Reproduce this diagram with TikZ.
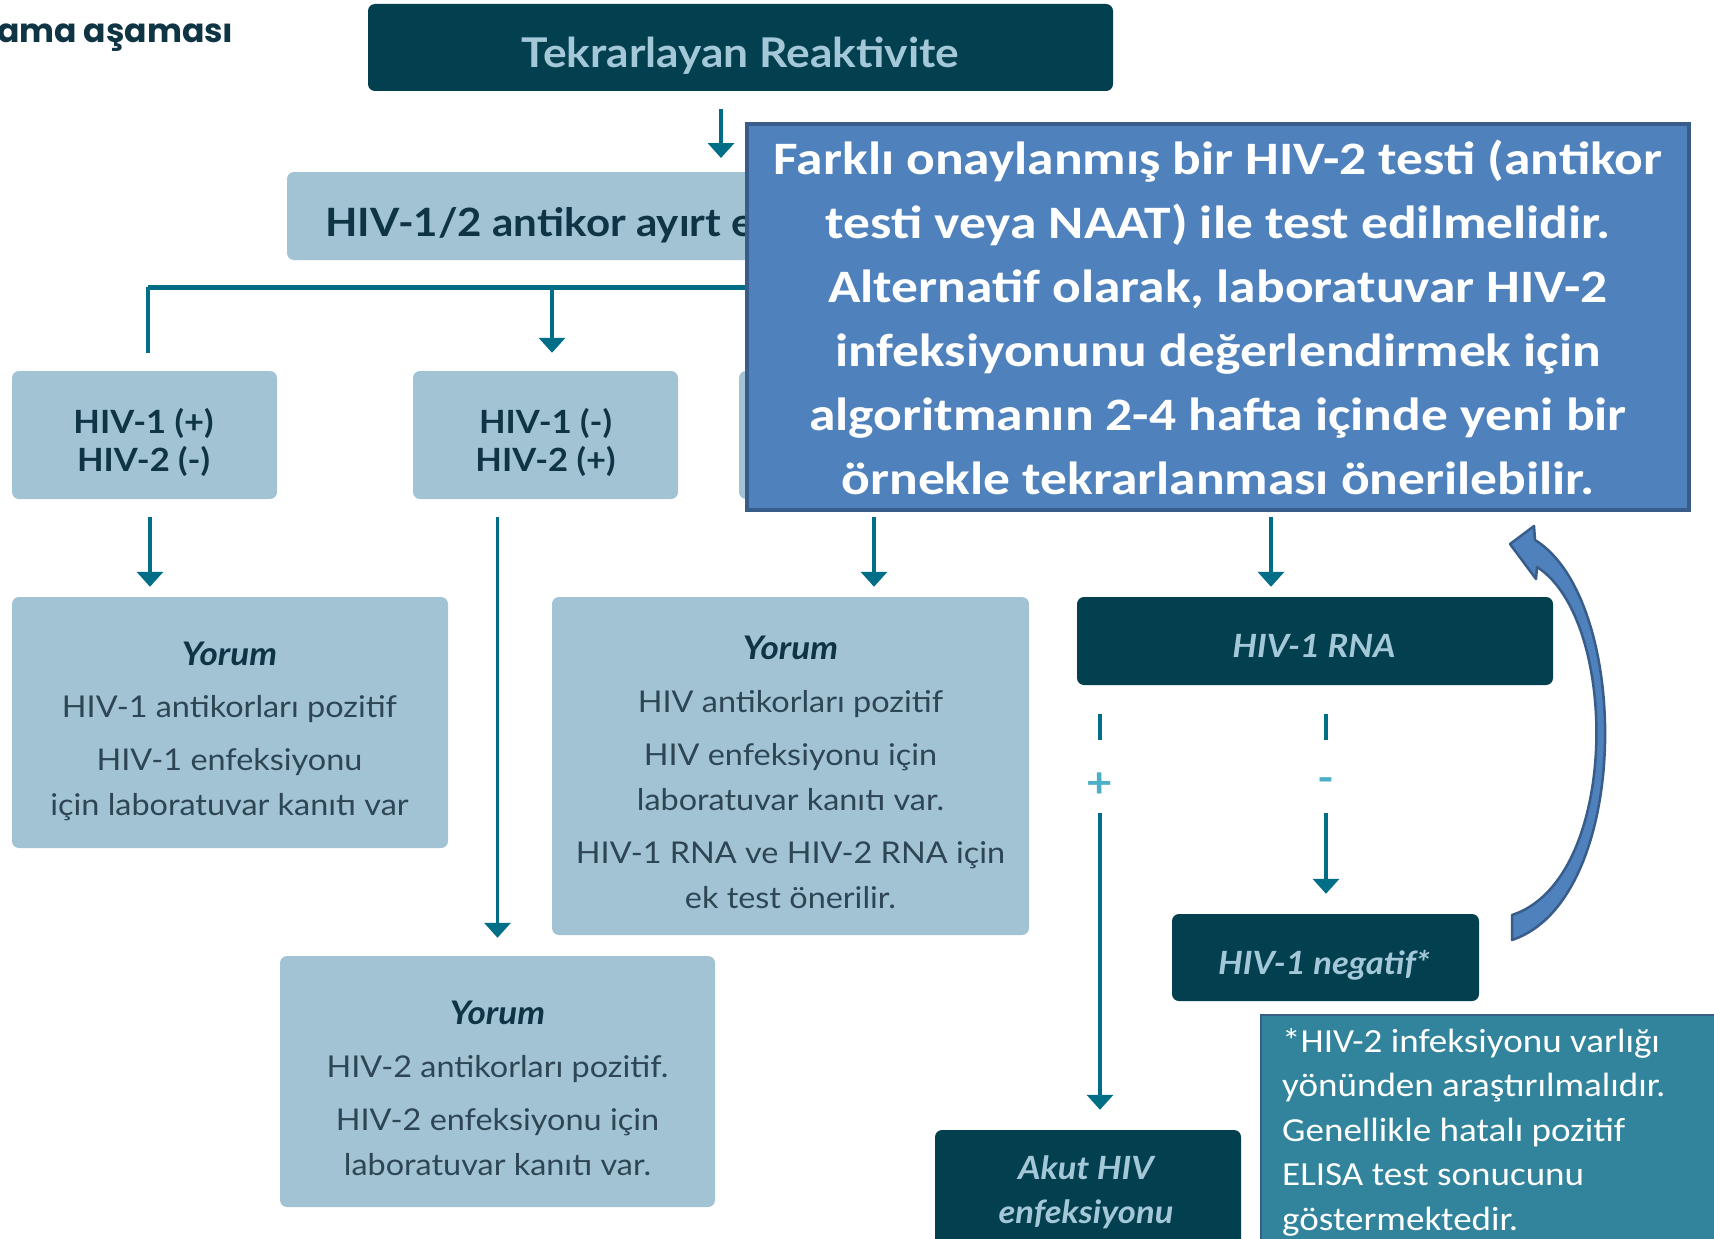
\documentclass[tikz,border=0pt]{standalone}
\usepackage{fontspec}
\usetikzlibrary{arrows.meta,calc}
\newfontfamily\flowfont[FakeStretch=1.08]{Lato}
\newfontfamily\hdrfont{Poppins}
\newfontfamily\calfont[FakeStretch=1.15]{Carlito}
\newfontfamily\calfontfoot[FakeStretch=1.10]{Carlito}
\definecolor{darkbox}{HTML}{02404F}
\definecolor{darktxt}{HTML}{A5C8D8}
\definecolor{lightbox}{HTML}{A1C3D4}
\definecolor{headtxt}{HTML}{0F3545}
\definecolor{bodytxt}{HTML}{2E4654}
\definecolor{arrcol}{HTML}{006E86}
\definecolor{pmcol}{HTML}{4BAFC8}
\definecolor{ovfill}{HTML}{4F81BD}
\definecolor{ovdraw}{HTML}{385D8A}
\definecolor{footfill}{HTML}{31849B}
\newcommand{\yorumhd}{\leavevmode{\fontsize{32.5}{45}\selectfont\bfseries\itshape\color{headtxt}Yorum}}
\begin{document}
\begin{tikzpicture}[x=1pt,y=-1pt,
  darkb/.style={fill=darkbox, rounded corners=7pt, inner sep=0pt},
  lightb/.style={fill=lightbox, rounded corners=7pt, inner sep=0pt},
  dtxt/.style={text=darktxt, inner sep=0pt, anchor=base, font=\flowfont\bfseries\itshape\fontsize{32}{44}\selectfont},
  ytxt/.style={text=bodytxt, inner sep=0pt, anchor=base, font=\flowfont\fontsize{30}{45}\selectfont},
  arr/.style={draw=arrcol, line width=3.5pt, -{Triangle[width=26pt,length=15pt]}},
  plainln/.style={draw=arrcol, line width=3.5pt},
  branchln/.style={draw=arrcol, line width=5pt},
  pm/.style={text=pmcol, font=\flowfont\bfseries\fontsize{42}{42}\selectfont, minimum height=70pt, inner sep=0pt},
]
\useasboundingbox (0,0) rectangle (1714,1239);
\fill[white] (0,0) rectangle (1714,1239);

% heading
\node[anchor=base west, inner sep=0pt, text=headtxt, font=\hdrfont\bfseries\fontsize{33}{33}\selectfont] (hdr) at (-3,43) {ama aşaması};

% top box
\node[darkb, minimum width=745pt, minimum height=87pt] (top) at (740.5,47.5) {};
\node[text=darktxt, inner sep=0pt, anchor=base, font=\flowfont\bfseries\fontsize{41}{41}\selectfont] (topt) at (740.5,67) {Tekrarlayan Reaktivite};

% discriminating test box
\node[lightb, minimum width=813pt, minimum height=88pt] (disc) at (693.5,216) {};
\node[anchor=base west, inner sep=0pt, text=headtxt, font=\flowfont\bfseries\fontsize{39}{39}\selectfont] (disct) at (325,236) {HIV-1/2 antikor ayırt e};

\coordinate (topin) at (721,109);
\coordinate (topend) at (721,158);
\draw[arr] (topin) -- (topend);

% second row
\node[lightb, minimum width=265pt, minimum height=128pt] (b1) at (144.5,435) {};
\node[lightb, minimum width=265pt, minimum height=128pt] (b2) at (545.5,435) {};
\node[lightb, minimum width=265pt, minimum height=128pt] (b3) at (871.5,435) {};
\node[text=headtxt, inner sep=0pt, anchor=base, font=\flowfont\bfseries\fontsize{32}{38}\selectfont] (b1t) at (143.5,433)
 {\parbox[t]{250pt}{\centering HIV-1 (+)\\HIV-2 (-)}};
\node[text=headtxt, inner sep=0pt, anchor=base, font=\flowfont\bfseries\fontsize{32}{38}\selectfont] (b2t) at (545.5,433)
 {\parbox[t]{250pt}{\centering HIV-1 (-)\\HIV-2 (+)}};

% branch
\coordinate (jL) at (148,287);
\coordinate (j2) at (552,287);
\coordinate (jR) at (1271,287);
\coordinate (jLend) at (148,353);
\draw[branchln] (jL) -- (jR);
\draw[plainln] (jL) -- (jLend);
\draw[arr, shorten >=18pt] (j2) -- (j2 |- b2.north);

% interpretation boxes
\node[lightb, minimum width=436pt, minimum height=251pt] (y1) at (230,722.5) {};
\node[lightb, minimum width=477pt, minimum height=338pt] (y2) at (790.5,766) {};
\node[lightb, minimum width=435pt, minimum height=251pt] (y3) at (497.5,1081.5) {};
\node[ytxt] (y1t) at (229.5,665)
 {\parbox[t]{430pt}{\centering\yorumhd\\[7pt]HIV-1 antikorları pozitif\\[8pt]HIV-1 enfeksiyonu\\için laboratuvar kanıtı var}};
\node[ytxt] (y2t) at (790.5,659)
 {\parbox[t]{470pt}{\centering\yorumhd\\[8pt]HIV antikorları pozitif\\[8pt]HIV enfeksiyonu için\\laboratuvar kanıtı var.\\[8pt]HIV-1 RNA ve HIV-2 RNA için\\ek test önerilir.}};
\node[ytxt] (y3t) at (497.5,1024)
 {\parbox[t]{430pt}{\centering\yorumhd\\[8pt]HIV-2 antikorları pozitif.\\[8pt]HIV-2 enfeksiyonu için\\laboratuvar kanıtı var.}};

% dark result boxes
\node[darkb, minimum width=476pt, minimum height=88pt] (rna) at (1315,641) {};
\node[dtxt] (rnat) at (1314,657) {HIV-1 RNA};
\node[darkb, minimum width=307pt, minimum height=87pt] (neg) at (1325.5,957.5) {};
\node[dtxt] (negt) at (1324,974) {HIV-1 negatif*};
\node[darkb, minimum width=306pt, minimum height=130pt] (akut) at (1088,1195) {};
\node[dtxt] (akut1) at (1086,1179) {Akut HIV};
\node[dtxt] (akut2) at (1086,1223) {enfeksiyonu};

% arrows from row 2
\draw[arr, shorten <=18pt, shorten >=10pt] ([xshift=5.5pt]b1.south) -- ([xshift=5.5pt]b1.south |- y1.north);
\draw[arr, shorten <=18pt, shorten >=18pt] (b2.south -| y3.north) -- (y3.north);
\draw[arr, shorten <=18pt, shorten >=10pt] ([xshift=2.5pt]b3.south) -- ([xshift=2.5pt]b3.south |- y2.north);
\coordinate (c4) at (1271,517);
\draw[arr, shorten >=10pt] (c4) -- (c4 |- rna.north);

% plus / minus
\node[pm] (plus) at (1100,785) {+};
\node[pm] (minus) at (1326,785) {-};
\draw[plainln, shorten <=29pt, shorten >=10pt] (rna.south -| plus) -- (plus.north);
\draw[arr, shorten <=-7pt, shorten >=20pt] (plus.south) -- (plus.south |- akut.north);
\draw[plainln, shorten <=29pt, shorten >=10pt] (rna.south -| minus) -- (minus.north);
\draw[arr, shorten <=-7pt, shorten >=20pt] (minus.south) -- (minus.south |- neg.north);

% overlay note
\node[fill=ovfill, draw=ovdraw, line width=3.5pt, minimum width=942pt, minimum height=386pt, inner sep=0pt, text=white, align=center,
  font=\calfont\bfseries\fontsize{46.5}{64}\selectfont] (note) at (1218,317)
 {Farklı onaylanmış bir HIV-2 testi (antikor\\testi veya NAAT) ile test edilmelidir.\\Alternatif olarak, laboratuvar HIV-2\\infeksiyonunu değerlendirmek için\\algoritmanın 2-4 hafta içinde yeni bir\\örnekle tekrarlanması önerilebilir.};

% footnote
\node[fill=footfill, draw=ovdraw, line width=2pt, minimum width=463pt, minimum height=236pt, inner sep=0pt] (foot) at (1492.5,1133) {};
\node[anchor=base west, inner sep=0pt, text=white, font=\calfontfoot\fontsize{33.7}{44.6}\selectfont] (foott) at (1282,1052)
 {\parbox[t]{425pt}{\raggedright *HIV-2 infeksiyonu varlığı\\yönünden araştırılmalıdır.\\Genellikle hatalı pozitif\\ELISA test sonucunu\\göstermektedir.}};

% curved block arrow back to note
\coordinate (tailtop) at (1512,915);
\coordinate (tailbot) at (1512,940);
\filldraw[fill=ovfill, draw=ovdraw, line width=2.5pt, line join=round]
  (tailbot) -- (tailtop)
  .. controls (1620,880) and (1620,620) .. (1537,567)
  -- (1536,579) -- (1510,544) -- (1534,526) -- (1535,540)
  .. controls (1632,600) and (1632,900) .. (tailbot) -- cycle;
\end{tikzpicture}
\end{document}
